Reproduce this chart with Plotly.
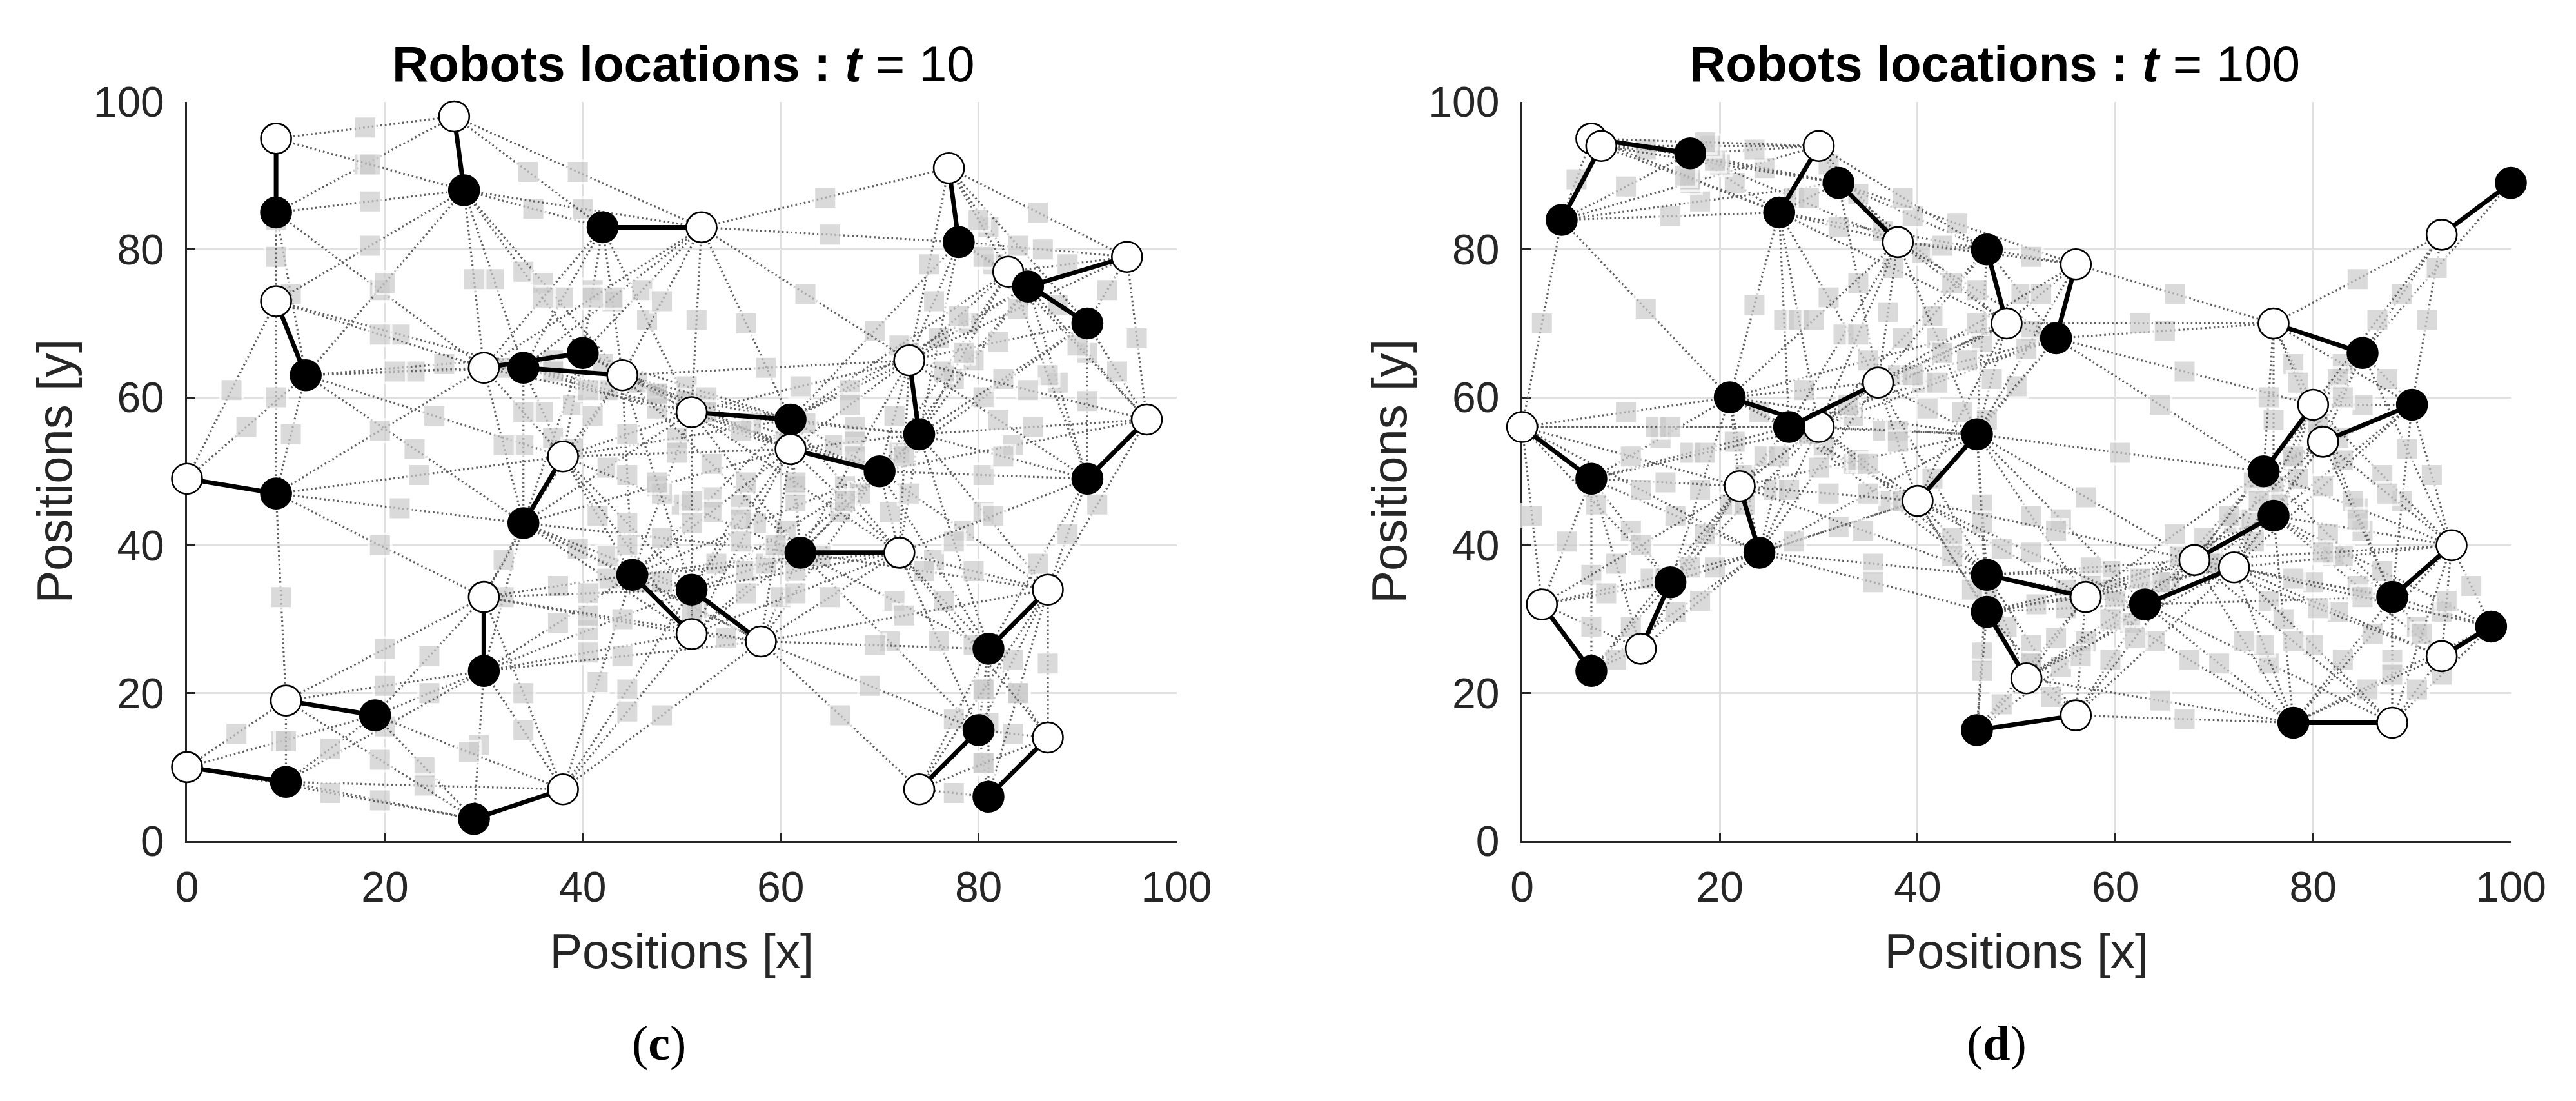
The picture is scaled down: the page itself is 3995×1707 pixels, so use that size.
import plotly.graph_objects as go

tick_values = [0, 20, 40, 60, 80, 100]
tick_labels = ["0", "20", "40", "60", "80", "100"]
x_title = "Positions [x]"
y_title = "Positions [y]"
c_title = "<b>Robots locations : <i>t</i></b> = 10"
d_title = "<b>Robots locations : <i>t</i></b> = 100"
c_label = "(<b>c</b>)"
d_label = "(<b>d</b>)"

# Panel (c): robots, black = index 0-24, white = 25-49 (pair i <-> i+25)
c_black_x = [9,28,42,78,85,91,12,34,40,61,70,74,91,9,34,62,45,51,30,19,10,29,81,80,81]
c_black_y = [85,88,83,81,75,70,63,64,66,57,50,55,49,47,43,39,36,34,23,17,8,3,26,15,6]
c_white_x = [9,27,52,77,95,83,9,44,30,51,61,73,97,0,38,72,51,58,30,10,0,38,87,74,87]
c_white_y = [95,98,83,91,79,77,73,63,64,58,53,65,57,49,52,39,28,27,33,19,10,7,34,7,14]
c_pair_order = [0,1,2,3,5,4,6,8,7,9,10,11,12,13,14,15,16,17,18,19,20,21,22,23,24]

c_edge_a = [0,0,0,0,0,
 1,1,1,1,1,1,1,1,1,
 2,2,2,2,2,2,
 3,3,3,3,3,3,3,3,
 4,4,4,4,4,4,4,4,4,
 5,5,5,5,5,5,5,
 6,6,6,6,6,6,6,
 7,7,7,7,7,7,7,7,7,
 8,8,8,8,8,8,8,
 9,9,9,9,9,9,9,9,9,9,9,9,
 10,10,10,10,10,10,10,10,10,10,10,10,10,10,10,
 11,11,11,11,11,11,11,11,11,
 12,12,12,12,12,
 13,13,13,13,13,13,
 14,14,14,14,14,14,14,14,14,14,14,
 15,15,15,15,15,15,15,15,15,15,15,15,
 16,16,16,16,16,16,16,16,16,16,
 17,17,17,17,17,17,17,17,17,
 18,18,18,18,18,18,18,
 19,19,19,19,19,
 20,20,20,
 21,21,
 22,22,22,22,22,22,
 23,23,23,23,23,
 24,24,
 25,25,
 26,
 27,27,27,27,27,
 28,28,28,
 29,29,29,
 30,30,
 31,31,
 32,32,32,32,32,
 33,33,
 34,34,34,34,34,
 35,35,35,35,35,
 36,36,
 37,
 39,39,
 40,40,40,40,
 41,41,41,
 42,42,42,42,
 43,43,
 44,
 47,47,
 48]
c_edge_b = [1,6,26,31,33,
 2,6,7,8,25,27,31,32,33,
 7,8,26,32,33,34,
 4,5,9,11,27,29,30,36,
 5,9,10,11,12,28,30,36,37,
 10,11,12,28,29,36,37,
 7,8,13,14,33,38,39,
 8,9,14,27,31,33,34,35,39,
 9,14,27,32,34,35,39,
 10,11,15,16,17,27,30,32,35,36,39,40,
 11,12,15,16,17,22,30,32,34,36,37,40,41,42,47,
 12,15,22,30,34,35,37,40,47,
 22,30,36,40,47,
 14,31,33,39,43,44,
 15,16,17,18,32,33,34,35,41,42,43,
 16,17,22,23,32,34,35,36,39,41,42,47,
 17,18,32,34,35,39,40,42,43,46,
 18,32,34,35,39,40,41,43,46,
 19,20,21,41,42,44,46,
 20,21,43,45,46,
 21,44,46,
 44,45,
 23,24,40,42,48,49,
 24,40,42,47,49,
 47,48,
 26,31,
 27,
 28,32,33,34,36,
 29,30,36,
 30,36,37,
 36,37,
 33,38,
 33,34,35,36,39,
 34,39,
 35,36,39,40,41,
 36,39,40,41,42,
 37,40,
 47,
 41,43,
 41,42,47,49,
 42,43,46,
 43,46,47,48,
 44,46,
 45,
 48,49,
 49]
c_square_x = [18.5,10.5,18,9,19.5,
 35,20,31,34,18.5,40,18.5,36,29,
 38,41,34.5,43,36,46.5,
 81.5,84.5,69.5,76,65,86.5,80.5,75.5,
 88,73,77.5,79.5,88,81,84,79,91,
 80.5,82.5,91,84,93,82,94,
 23,26,10.5,23,21,6,25,
 37,47.5,34,43,21.5,32,42.5,47.5,36,
 50.5,37,46,42,45.5,50.5,39,
 65.5,67.5,61.5,53,56,56.5,72,52.5,61,67,49.5,66.5,
 72,80.5,66,57.5,60.5,75.5,76.5,57,60.5,71.5,83.5,71,60.5,64,78.5,
 82.5,68,77.5,78.5,62.5,67.5,85.5,73,80.5,
 86,87,82,81.5,89,
 21.5,9,19.5,23.5,19.5,9.5,
 48,39.5,42.5,32,39,32,42.5,47.5,42.5,46,32,
 53.5,56.5,71.5,71,53,56.5,61.5,67.5,50,56.5,60,74.5,
 48,37.5,44.5,48,53,41.5,58.5,51.5,37.5,41.5,
 40.5,47.5,51,56,44.5,61.5,51,40.5,44.5,
 24.5,20,29.5,40.5,44,20,34,
 14.5,24,24.5,9.5,28.5,
 19.5,10,24,
 19.5,14.5,
 80.5,81,76.5,69.5,77.5,84,
 80.5,76,69,83.5,83.5,
 84,77.5,
 18,9,
 39.5,
 64.5,48,41,51.5,62.5,
 86,80,75,
 89,84,96,
 78,90,
 19.5,4.5,
 37,47.5,52.5,58.5,41,
 40.5,34,
 56,62,44.5,61.5,51,
 67,49.5,66.5,56,59.5,
 85,72.5,
 92,
 44.5,34,
 61.5,65,79.5,79.5,
 54.5,40.5,44.5,
 44,48,72.5,66,
 20,34,
 5,
 80.5,87,
 80.5]
c_square_y = [86.5,74,91.5,79,74.5,
 85.5,75.5,76,77,91.5,85.5,80.5,75.5,76,
 73.5,74.5,90.5,73,73.5,70.5,
 78,75.5,69,68,82,80,79,73,
 72.5,66,62.5,65,62,83,76,70,66,
 60,62.5,59.5,80.5,74.5,67.5,63.5,
 63.5,64.5,55,53,63.5,56,57.5,
 65,60.5,53.5,73.5,68.5,64,61,58.5,58,
 61.5,54.5,74.5,64.5,62,59.5,59,
 53.5,56,48,46.5,45.5,70,67,60,55,61,54.5,48,
 52.5,49.5,44.5,43,42,38,63.5,56.5,54,57.5,53.5,44.5,39,38.5,42,
 52,47,40.5,66,56.5,54,56,47,44.5,
 37.5,63,57,44,41.5,
 45,60,55.5,49.5,40,33,
 41,39.5,38.5,33,53,53.5,50.5,48,35.5,35,38,
 37.5,36.5,32.5,27,51,48.5,46,52,45.5,33.5,33,36.5,
 35,29.5,49.5,47,44.5,44,37.5,31.5,34.5,21.5,
 28.5,48.5,46,43.5,43,36.5,31,33.5,20.5,
 20,15.5,13,25.5,25,21,15,
 12.5,10,25,13.5,12,
 5.5,13.5,7.5,
 11,6.5,
 20.5,16,32.5,26.5,16.5,20,
 10.5,27,21,24.5,14.5,
 20,6.5,
 96.5,84,
 90.5,
 87,73,73.5,70.5,74,
 85,84,78,
 78,72,68,
 71,67,
 68.5,61,
 63.5,60.5,58,64,57.5,
 61,58,
 55.5,61.5,55,48.5,43,
 59,52.5,46,40.5,40,
 61,52,
 45.5,
 40,42.5,
 33.5,33,36.5,26.5,
 27.5,30.5,17.5,
 30,17,30.5,17,
 26,20,
 14.5,
 20.5,24,
 10.5]

# Panel (d)
d_black_x = [4,17,26,32,47,54,21,27,7,46,24,15,7,47,47,46,63,76,75,90,85,100,88,98,78]
d_black_y = [84,93,85,89,80,68,60,56,49,55,39,35,23,36,31,15,32,44,50,59,66,89,33,29,16]
d_white_x = [8,7,30,38,49,56,30,36,0,40,22,12,2,57,51,56,72,68,80,81,76,93,94,93,88]
d_white_y = [94,95,94,81,70,78,56,62,56,46,48,26,32,33,22,17,37,38,59,54,70,82,40,25,16]
d_pair_order = [1,0,2,3,4,5,6,7,8,9,10,11,12,13,14,15,16,17,18,19,20,21,22,23,24]

d_edge_a = [0,0,0,0,0,0,0,
 1,1,1,1,1,
 2,2,2,2,2,2,2,2,2,2,
 3,3,3,3,3,3,3,
 4,4,4,4,4,4,4,
 5,5,5,5,5,5,5,5,5,5,
 6,6,6,6,6,6,6,6,6,6,6,
 7,7,7,7,7,7,7,7,7,7,7,
 8,8,8,8,8,8,8,
 9,9,9,9,9,9,9,9,9,9,9,9,9,
 10,10,10,10,10,10,10,10,10,10,
 11,11,11,11,11,11,
 12,12,
 13,13,13,13,13,13,13,13,13,13,13,
 14,14,14,14,14,14,14,
 15,15,15,
 16,16,16,16,16,16,16,16,16,16,16,
 17,17,17,17,17,17,17,17,17,17,17,17,17,
 18,18,18,18,18,18,18,18,18,
 19,19,19,19,19,19,19,
 20,20,20,20,20,
 22,22,22,22,22,22,22,22,
 23,23,23,23,
 24,24,24,24,24,24,24,
 25,25,
 26,
 27,
 28,28,28,28,
 29,29,29,29,29,
 30,30,
 31,31,31,31,
 32,32,
 33,33,
 34,34,34,34,
 35,35,
 36,
 38,38,38,38,
 39,39,39,
 40,40,
 41,41,41,41,41,41,
 42,42,42,42,42,
 43,43,43,43,
 44,44,
 45,
 47,47,
 48]
d_edge_b = [1,2,3,6,26,27,33,
 2,3,25,27,28,
 3,4,6,7,25,26,28,29,31,32,
 4,25,26,27,29,30,32,
 5,9,27,28,30,31,32,
 7,9,18,28,29,31,32,34,43,45,
 7,8,9,10,11,28,29,32,33,34,35,
 8,9,10,11,13,28,29,31,33,34,35,
 10,11,12,31,35,36,37,
 10,13,14,16,18,28,29,30,31,32,35,38,42,
 11,12,13,14,31,32,33,34,36,37,
 12,31,33,34,35,37,
 35,36,
 14,15,16,31,32,34,35,39,40,41,42,
 15,16,34,38,40,41,42,
 16,38,39,
 17,18,22,24,34,38,39,40,42,44,49,
 18,19,20,22,23,24,38,41,43,44,45,47,48,
 19,20,22,38,41,42,44,45,47,
 20,22,41,43,45,46,47,
 21,43,44,46,47,
 23,24,41,42,43,44,48,49,
 24,41,47,49,
 38,39,40,41,42,47,48,
 26,27,
 27,
 28,
 29,30,31,32,
 30,31,32,34,45,
 32,45,
 32,33,34,35,
 34,35,
 35,37,
 35,38,39,42,
 36,37,
 37,
 39,40,41,42,
 40,41,42,
 41,42,
 42,43,44,47,48,49,
 43,44,47,48,49,
 44,45,46,47,
 45,47,
 46,
 48,49,
 49]
d_square_x = [10.5,15,18,12.5,5.5,17,2,
 21.5,24.5,12.5,23.5,27.5,
 29,36.5,23.5,26.5,17,16.5,32,37.5,28,31,
 39.5,20,19.5,31,40.5,44,34,
 50.5,46.5,38.5,42.5,51.5,38.5,41.5,
 40.5,50,64.5,46,51.5,42,45,47,67,65,
 24,14,33.5,22.5,18,29.5,35,28.5,10.5,30.5,21.5,
 17,36.5,25.5,21,37,32.5,38,28.5,13.5,33.5,24.5,
 15.5,11,7,18.5,14.5,9.5,4.5,
 35,46.5,46.5,54.5,60.5,42,47.5,51,38,41,34,51.5,57,
 19.5,15.5,35.5,35.5,27,30,12,32,18,13,
 11,22.5,7.5,27.5,18.5,8.5,
 14.5,9.5,
 47,46.5,55,38.5,41.5,43.5,34.5,49,51.5,59.5,57.5,
 46.5,55,43.5,52,51.5,59.5,57.5,
 54.5,51.5,48.5,
 69.5,69,75.5,70.5,51.5,60,57,59.5,65.5,72,75.5,
 75.5,83,80.5,82,87,77,66.5,74,78,78.5,76,85,84.5,
 82.5,80,81.5,66,73.5,71.5,78,75.5,84.5,
 87.5,89,81,85,83,91.5,92,
 92.5,82.5,83,89,89.5,
 93,83,80,78,84,84.5,90.5,88,
 88,85,96,93,
 67.5,64.5,67,75,73,86,85.5,
 7.5,19,
 18.5,
 34,
 43.5,47,34,37,
 52.5,39.5,42.5,44.5,62.5,
 46,66,
 33,15,35,26,
 38,29,
 11,1,
 31,48.5,45.5,54,
 17,12,
 7,
 54,56.5,64.5,62.5,
 53.5,61.5,59.5,
 64,62,
 70,76,76.5,83,82.5,80,
 74,74.5,81,80.5,78,
 80.5,78,86.5,87,
 78.5,87.5,
 84.5,
 93.5,91,
 90.5]
d_square_y = [88.5,84.5,86.5,72,89.5,89,70,
 89,91,93.5,93.5,87,
 87,82.5,72.5,70.5,89.5,90,83,77.5,70.5,73.5,
 84.5,91.5,92,91.5,79.5,83.5,75.5,
 74,67.5,87,80.5,79,68,71,
 62,61.5,59,74.5,69,62,65,57,63.5,69,
 58,54.5,57.5,49.5,47.5,70.5,65,61,58,53,54,
 52.5,55.5,47.5,45.5,46,68.5,63,56,56,51,52,
 44,42,36,52.5,48.5,37.5,40.5,
 47,45.5,43,43.5,52.5,68,62.5,66.5,55.5,58.5,51.5,44,46.5,
 37,31,37.5,35,47.5,50.5,47.5,42.5,32.5,35.5,
 29,45.5,45.5,40.5,41.5,33.5,
 35.5,24.5,
 33.5,25.5,34,46,49,41,42,29,26.5,36.5,37,
 23,31.5,38.5,32,24,34,34.5,
 23.5,24,18.5,
 38,41,32.5,24,39,32.5,27,24.5,35,43,24,
 47,51.5,55,38.5,36.5,30,38.5,40.5,51.5,49,57,42,34.5,
 54.5,58,41.5,41.5,43.5,44,52,60,45,
 62.5,46,48,59,64.5,70.5,49.5,
 77.5,62.5,60,74,53,
 31,24.5,35,35.5,46,43.5,29,24.5,
 22.5,33,34.5,22.5,
 24.5,19,16.5,26.5,27,28,20.5,
 94.5,94,
 94.5,
 87.5,
 75.5,79.5,68.5,71.5,
 74,63,66,58,70,
 70,74,
 59,56,51,52,
 54,55,
 52,44,
 47,39.5,34,42,
 37,40,
 29,
 27.5,25,35,35.5,
 19.5,29.5,30,
 27,27.5,
 37.5,48,45.5,38.5,31,26.5,
 48.5,46,39,31.5,27,
 56.5,64.5,70.5,49.5,
 62,47,
 76,
 32.5,28,
 20.5]

W, H = 3995, 1707
PAGE_OFFSET = 8  # the page's own body margin shifts the figure by this many pixels
fig = go.Figure()

def add_panel(xaxis, yaxis, bx, by, wx, wy, ea, eb, sx, sy, order):
    X = bx + wx
    Y = by + wy
    for a, b, mx, my in zip(ea, eb, sx, sy):
        fig.add_trace(go.Scatter(
            x=[X[a], mx, X[b]], y=[Y[a], my, Y[b]], xaxis=xaxis, yaxis=yaxis,
            mode="lines+markers", cliponaxis=False, hoverinfo="skip", showlegend=False,
            line=dict(color="#5f5f5f", width=3.2, dash="2.6px,4.2px"),
            marker=dict(symbol="square", size=[0, 35, 0], color="#cbcbcb",
                        line=dict(color="#ffffff", width=4))))
    for i in order:
        fig.add_trace(go.Scatter(
            x=[bx[i], wx[i]], y=[by[i], wy[i]], xaxis=xaxis, yaxis=yaxis,
            mode="lines+markers", cliponaxis=False, hoverinfo="skip", showlegend=False,
            line=dict(color="#000000", width=7),
            marker=dict(symbol="circle", size=47, color=["#000000", "#ffffff"],
                        line=dict(color="#000000", width=2.6))))

add_panel("x", "y", c_black_x, c_black_y, c_white_x, c_white_y,
          c_edge_a, c_edge_b, c_square_x, c_square_y, c_pair_order)
add_panel("x2", "y2", d_black_x, d_black_y, d_white_x, d_white_y,
          d_edge_a, d_edge_b, d_square_x, d_square_y, d_pair_order)

tick_font = dict(family="Liberation Sans", size=66, color="#262626")
title_font = dict(family="Liberation Sans", size=76, color="#262626")
common = dict(range=[0, 100], tickmode="array", tickvals=tick_values, ticktext=tick_labels,
              ticks="inside", ticklen=13, tickwidth=3, tickcolor="#262626",
              showline=True, linewidth=3, linecolor="#262626", mirror=False,
              showgrid=True, gridcolor="#e0e0e0", gridwidth=2.5, zeroline=False, automargin=False,
              tickfont=tick_font, layer="below traces", fixedrange=True)
ydom = [(H - 1304 + PAGE_OFFSET) / H, (H - 157.5 + PAGE_OFFSET) / H]
fig.update_layout(
    width=W, height=H, margin=dict(l=0, r=0, t=0, b=0),
    plot_bgcolor="#ffffff", paper_bgcolor="#ffffff", showlegend=False, hovermode=False,
    xaxis=dict(domain=[(290 - PAGE_OFFSET) / W, (1824.5 - PAGE_OFFSET) / W], anchor="y",
               ticklabelstandoff=12,
               title=dict(text=x_title, font=title_font, standoff=37), **common),
    yaxis=dict(domain=ydom, anchor="x", ticklabelstandoff=19,
               title=dict(text=y_title, font=title_font, standoff=9), **common),
    xaxis2=dict(domain=[(2360.6 - PAGE_OFFSET) / W, (3894 - PAGE_OFFSET) / W], anchor="y2",
                ticklabelstandoff=12,
                title=dict(text=x_title, font=title_font, standoff=37), **common),
    yaxis2=dict(domain=ydom, anchor="x2", ticklabelstandoff=19,
                title=dict(text=y_title, font=title_font, standoff=9), **common),
)
def note(text, px, py, font):
    fig.add_annotation(text=text, xref="paper", yref="paper", x=(px - PAGE_OFFSET) / W,
                       y=1 - (py - PAGE_OFFSET) / H,
                       xanchor="center", yanchor="middle", showarrow=False, font=font)
head = dict(family="Liberation Sans", size=78, color="#000000")
cap = dict(family="Liberation Serif", size=76, color="#000000")
note(c_title, 1060, 99, head)
note(d_title, 3093, 99, head)
note(c_label, 1022, 1617, cap)
note(d_label, 3096, 1617, cap)
fig.write_html("out.html")
